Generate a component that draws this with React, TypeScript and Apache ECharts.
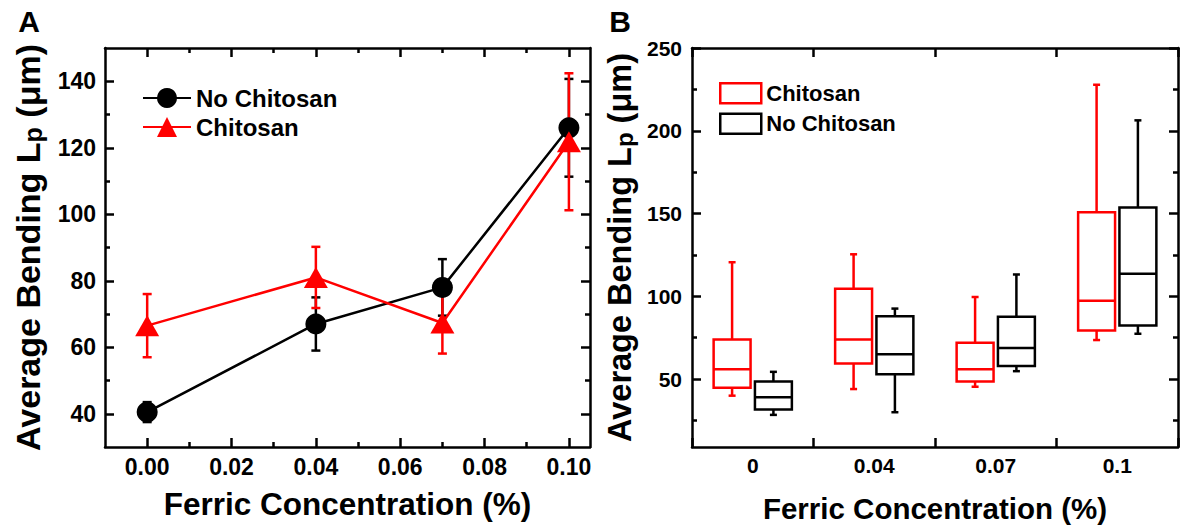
import React, { useEffect, useRef } from "react";
import * as echarts from "echarts";

const FONT = '"Liberation Sans", Arial, Helvetica, sans-serif';

// ---------- Panel A data ----------
const concA = [0, 0.04, 0.07, 0.1];
const noChitosanMean = [40.5, 67, 78, 126];
const noChitosanErr = [3, 8, 8.5, 14.7];
const chitosanMean = [66.5, 81, 67.3, 121.8];
const chitosanErr = [9.5, 9.2, 9.2, 20.6];

const xMajorA = [0, 0.02, 0.04, 0.06, 0.08, 0.1];
const xMinorA = [0.01, 0.03, 0.05, 0.07, 0.09];
const yMajorA = [40, 60, 80, 100, 120, 140];
const yMinorA = [50, 70, 90, 110, 130];

// ---------- Panel B data ----------
const categoriesB = ["0", "0.04", "0.07", "0.1"];
// [min, q1, median, q3, max]
const chitosanBox = [
  [40, 44.8, 56, 74, 120.6],
  [44, 59.4, 74, 104.6, 125.4],
  [45.4, 48.6, 56, 72, 99.6],
  [73.6, 79.4, 97.4, 150.8, 227.8],
];
const noChitosanBox = [
  [28.4, 31.6, 39, 48.6, 54.4],
  [30, 53, 65, 88, 92.6],
  [54.8, 58, 68.8, 87.6, 113.2],
  [77.4, 82.4, 113.6, 153.6, 206.3],
];
const yMajorB = [50, 100, 150, 200, 250];
const yMinorB = [25, 75, 125, 175, 225];

const RED = "#ff0000";
const BLACK = "#000000";
const LW = 2.5;

const axisLine = { show: true, onZero: false, lineStyle: { color: BLACK, width: LW } };

function tickAxis(base: any, ticks: number[] | null, len: number, labels: any) {
  return {
    ...base,
    axisLine: base.hideLine ? { show: false, onZero: false } : axisLine,
    axisTick: ticks
      ? { show: true, inside: true, length: len, lineStyle: { color: BLACK, width: LW }, customValues: ticks }
      : { show: false },
    axisLabel: labels || { show: false },
    splitLine: { show: false },
    minorTick: { show: false },
  };
}

const nameStyle = (size: number) => ({
  fontSize: size,
  fontWeight: "bold",
  color: BLACK,
  fontFamily: FONT,
});

const yNameStyle = (size: number, sub: number) => ({
  color: BLACK,
  fontFamily: FONT,
  fontWeight: "bold",
  fontSize: size,
  rich: {
    t: { fontSize: size, fontWeight: "bold", fontFamily: FONT, color: BLACK },
    s: { fontSize: sub, fontWeight: "bold", fontFamily: FONT, color: BLACK, verticalAlign: "bottom" },
  },
});

function errorRender(color: string) {
  return (params: any, api: any) => {
    const x = api.value(0);
    const lo = api.coord([x, api.value(1)]);
    const hi = api.coord([x, api.value(2)]);
    const cap = 4.5;
    const st = { stroke: color, lineWidth: LW };
    return {
      type: "group",
      children: [
        { type: "line", shape: { x1: lo[0], y1: lo[1], x2: hi[0], y2: hi[1] }, style: st },
        { type: "line", shape: { x1: lo[0] - cap, y1: lo[1], x2: lo[0] + cap, y2: lo[1] }, style: st },
        { type: "line", shape: { x1: hi[0] - cap, y1: hi[1], x2: hi[0] + cap, y2: hi[1] }, style: st },
      ],
    };
  };
}

function boxRender(offsetFrac: number, color: string) {
  return (params: any, api: any) => {
    const idx = api.value(0);
    const band = api.size([1, 0])[0];
    const cx = api.coord([idx, 0])[0] + offsetFrac * band;
    const w = band * 0.304;
    const yv = (i: number) => api.coord([idx, api.value(i)])[1];
    const yMin = yv(1), yQ1 = yv(2), yMed = yv(3), yQ3 = yv(4), yMax = yv(5);
    const cap = 3.5;
    const st = { stroke: color, lineWidth: LW, fill: "none" };
    return {
      type: "group",
      children: [
        { type: "line", shape: { x1: cx, y1: yMax, x2: cx, y2: yQ3 }, style: st },
        { type: "line", shape: { x1: cx, y1: yQ1, x2: cx, y2: yMin }, style: st },
        { type: "line", shape: { x1: cx - cap, y1: yMax, x2: cx + cap, y2: yMax }, style: st },
        { type: "line", shape: { x1: cx - cap, y1: yMin, x2: cx + cap, y2: yMin }, style: st },
        { type: "rect", shape: { x: cx - w / 2, y: yQ3, width: w, height: yQ1 - yQ3 }, style: st },
        { type: "line", shape: { x1: cx - w / 2, y1: yMed, x2: cx + w / 2, y2: yMed }, style: st },
      ],
    };
  };
}

export default function App() {
  const ref = useRef<HTMLDivElement>(null);

  useEffect(() => {
    if (!ref.current) return;
    const chart = echarts.init(ref.current, null, { renderer: "svg" });

    const tickLabelA = {
      show: true,
      fontSize: 23,
      fontWeight: "bold",
      color: BLACK,
      fontFamily: FONT,
    };
    const tickLabelB = { ...tickLabelA, fontSize: 21 };

    const xA = { gridIndex: 0, type: "value", min: -0.01, max: 0.105 };
    const yA = { gridIndex: 0, type: "value", min: 30, max: 150 };
    const yB = { gridIndex: 1, type: "value", min: 9, max: 250 };

    const option: any = {
      animation: false,
      backgroundColor: "#ffffff",
      grid: [
        { left: 105, right: 591, top: 48, bottom: 82 },
        { left: 692, right: 3, top: 48, bottom: 82 },
      ],
      xAxis: [
        tickAxis(
          {
            ...xA,
            position: "bottom",
            name: "Ferric Concentration (%)",
            nameLocation: "middle",
            nameGap: 41,
            nameTextStyle: nameStyle(31.5),
          },
          xMajorA,
          9,
          { ...tickLabelA, margin: 8, customValues: xMajorA, formatter: (v: number) => v.toFixed(2) }
        ),
        tickAxis({ ...xA, position: "bottom", hideLine: true }, xMinorA, 5, null),
        tickAxis({ ...xA, position: "top" }, xMajorA, 9, null),
        tickAxis({ ...xA, position: "top", hideLine: true }, xMinorA, 5, null),
        {
          gridIndex: 1,
          type: "category",
          position: "bottom",
          data: categoriesB,
          boundaryGap: true,
          axisLine,
          axisTick: { show: true, inside: true, length: 9, lineStyle: { color: BLACK, width: LW } },
          axisLabel: { ...tickLabelB, margin: 8 },
          splitLine: { show: false },
          name: "Ferric Concentration (%)",
          nameLocation: "middle",
          nameGap: 46,
          nameTextStyle: nameStyle(29.5),
        },
        {
          gridIndex: 1,
          type: "category",
          position: "top",
          data: categoriesB,
          boundaryGap: true,
          axisLine,
          axisTick: { show: true, inside: true, length: 9, lineStyle: { color: BLACK, width: LW } },
          axisLabel: { show: false },
          splitLine: { show: false },
        },
      ],
      yAxis: [
        tickAxis(
          {
            ...yA,
            position: "left",
            name: "{t|Average Bending L}{s|p}{t| (μm)}",
            nameLocation: "middle",
            nameRotate: 90,
            nameGap: 60,
            nameTextStyle: yNameStyle(34, 25),
          },
          yMajorA,
          9,
          { ...tickLabelA, margin: 9, customValues: yMajorA }
        ),
        tickAxis({ ...yA, position: "left", hideLine: true }, yMinorA, 5, null),
        tickAxis({ ...yA, position: "right" }, yMajorA, 9, null),
        tickAxis({ ...yA, position: "right", hideLine: true }, yMinorA, 5, null),
        tickAxis(
          {
            ...yB,
            position: "left",
            name: "{t|Average Bending L}{s|p}{t| (μm)}",
            nameLocation: "middle",
            nameRotate: 90,
            nameGap: 56,
            nameTextStyle: yNameStyle(32.5, 24),
          },
          yMajorB,
          9,
          { ...tickLabelB, margin: 10, customValues: yMajorB }
        ),
        tickAxis({ ...yB, position: "left", hideLine: true }, yMinorB, 5, null),
        tickAxis({ ...yB, position: "right" }, yMajorB, 9, null),
        tickAxis({ ...yB, position: "right", hideLine: true }, yMinorB, 5, null),
      ],
      legend: [
        {
          show: true,
          orient: "vertical",
          left: 137,
          top: 81,
          itemWidth: 48,
          itemHeight: 25,
          itemGap: 5,
          selectedMode: false,
          textStyle: { fontSize: 24, fontWeight: "bold", color: BLACK, fontFamily: FONT },
          data: ["No Chitosan", "Chitosan"],
        },
        {
          show: true,
          orient: "vertical",
          left: 714,
          top: 77,
          itemWidth: 41,
          itemHeight: 20,
          itemGap: 8,
          selectedMode: false,
          formatter: (n: string) => n.replace("B-", ""),
          textStyle: { fontSize: 22, fontWeight: "bold", color: BLACK, fontFamily: FONT },
          data: [
            { name: "B-Chitosan", icon: "rect", itemStyle: { color: "rgba(0,0,0,0)", borderColor: RED, borderWidth: LW } },
            { name: "B-No Chitosan", icon: "rect", itemStyle: { color: "rgba(0,0,0,0)", borderColor: BLACK, borderWidth: LW } },
          ],
        },
      ],
      graphic: [
        {
          type: "text",
          x: 29,
          y: 21,
          style: { text: "A", fill: BLACK, font: `bold 30px ${FONT}`, align: "center", verticalAlign: "middle" },
        },
        {
          type: "text",
          x: 620,
          y: 21,
          style: { text: "B", fill: BLACK, font: `bold 30px ${FONT}`, align: "center", verticalAlign: "middle" },
        },
      ],
      series: [
        {
          name: "No Chitosan",
          type: "line",
          xAxisIndex: 0,
          yAxisIndex: 0,
          data: concA.map((x, i) => [x, noChitosanMean[i]]),
          symbol: "circle",
          symbolSize: 21,
          itemStyle: { color: BLACK },
          lineStyle: { color: BLACK, width: LW },
        },
        {
          name: "No Chitosan err",
          type: "custom",
          xAxisIndex: 0,
          yAxisIndex: 0,
          data: concA.map((x, i) => [x, noChitosanMean[i] - noChitosanErr[i], noChitosanMean[i] + noChitosanErr[i]]),
          encode: { x: 0, y: [1, 2] },
          renderItem: errorRender(BLACK),
          itemStyle: { color: BLACK },
        },
        {
          name: "Chitosan",
          type: "line",
          xAxisIndex: 0,
          yAxisIndex: 0,
          data: concA.map((x, i) => [x, chitosanMean[i]]),
          symbol: "triangle",
          symbolSize: [24, 21],
          itemStyle: { color: RED },
          lineStyle: { color: RED, width: LW },
        },
        {
          name: "Chitosan err",
          type: "custom",
          xAxisIndex: 0,
          yAxisIndex: 0,
          data: concA.map((x, i) => [x, chitosanMean[i] - chitosanErr[i], chitosanMean[i] + chitosanErr[i]]),
          encode: { x: 0, y: [1, 2] },
          renderItem: errorRender(RED),
          itemStyle: { color: RED },
        },
        {
          name: "B-Chitosan",
          type: "custom",
          xAxisIndex: 4,
          yAxisIndex: 4,
          data: chitosanBox.map((b, i) => [i, ...b]),
          encode: { x: 0, y: [1, 2, 3, 4, 5] },
          renderItem: boxRender(-0.17, RED),
          itemStyle: { color: RED },
        },
        {
          name: "B-No Chitosan",
          type: "custom",
          xAxisIndex: 4,
          yAxisIndex: 4,
          data: noChitosanBox.map((b, i) => [i, ...b]),
          encode: { x: 0, y: [1, 2, 3, 4, 5] },
          renderItem: boxRender(0.17, BLACK),
          itemStyle: { color: BLACK },
        },
      ],
    };

    chart.setOption(option);
    return () => chart.dispose();
  }, []);

  return (
    <div
      ref={ref}
      style={{ position: "fixed", left: 0, top: 0, width: 1181, height: 529, background: "#fff" }}
    />
  );
}
